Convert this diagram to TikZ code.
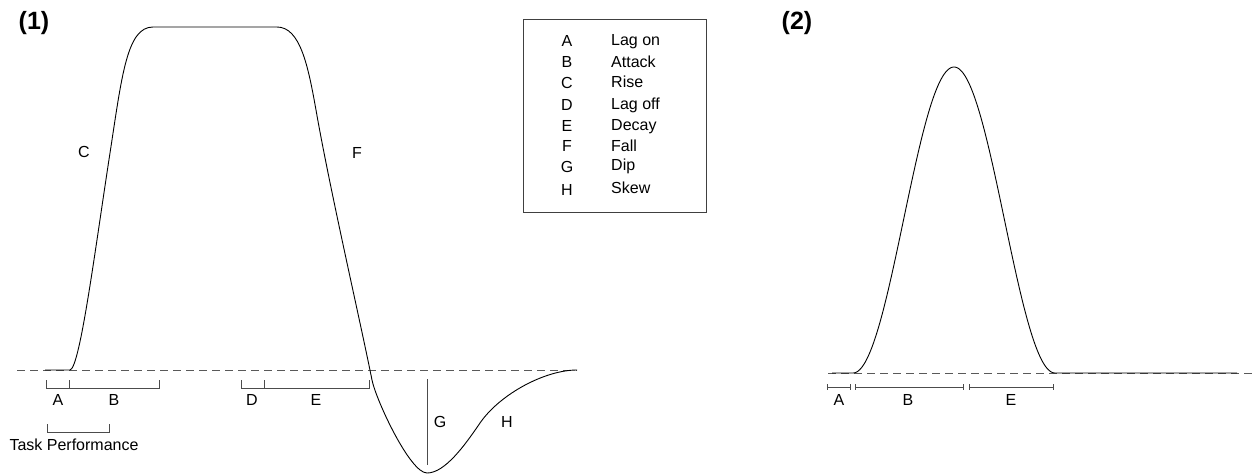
\documentclass[tikz,border=0pt]{standalone}
\usepackage{fontspec}
\setmainfont{Liberation Sans}
\begin{document}
\begin{tikzpicture}[x=1pt,y=-1pt,
  lbl/.style={font=\fontsize{16}{19}\selectfont, inner sep=0pt, anchor=base},
  lword/.style={font=\fontsize{16}{19}\selectfont, inner sep=0pt, anchor=base west},
  ttl/.style={font=\fontsize{25}{30}\selectfont\bfseries, inner sep=0pt, anchor=base},
  curve/.style={line width=0.9pt, black},
  baseline/.style={line width=0.9pt, draw=black!65, dash pattern=on 8pt off 5pt},
  brk/.style={line width=0.9pt, draw=black!70},
  legbox/.style={line width=0.9pt, draw=black!75},
]
\useasboundingbox (0,0) rectangle (1253,475);

% titles
\node[ttl] (t1) at (34,29.5) {(1)};
\node[ttl] (t2) at (797,29.5) {(2)};

% ---------- plot 1 ----------
\coordinate (b1L) at (17,370);
\coordinate (b1R) at (577,370);
\draw[baseline] (b1L) -- (b1R);
\draw[curve] (45,370) -- (70,370)
  .. controls (80,368) and (95,250) .. (110,153)
  .. controls (122,75) and (127,27) .. (153,27)
  -- (277,27)
  .. controls (300,27) and (308,65) .. (316,110)
  .. controls (330,190) and (360,320) .. (372,380)
  .. controls (376,400) and (410,473) .. (427,473)
  .. controls (445,473) and (465,445) .. (480,423)
  .. controls (500,394) and (545,370) .. (577,370);

% brackets plot 1
\draw[brk] (46,380) -- (46,388) -- (159,388) -- (159,380);
\draw[brk] (69,388) -- (69,380);
\draw[brk] (241,380) -- (241,388) -- (369,388) -- (369,380);
\draw[brk] (264,388) -- (264,380);
\draw[brk] (47,424) -- (47,432) -- (109,432) -- (109,424);
\coordinate (gtop) at (427,379);
\coordinate (gbot) at (427,465);
\draw[brk] (gtop) -- (gbot);

\node[lbl] (pA) at (58,405.5) {A};
\node[lbl] (pB) at (114,405.5) {B};
\node[lbl] (pD) at (252,405.5) {D};
\node[lbl] (pE) at (316,405.5) {E};
\node[lbl] (task) at (74,450) {Task Performance};
\node[lbl] (pC) at (84,157) {C};
\node[lbl] (pF) at (357,158) {F};
\node[lbl] (pG) at (440,427.5) {G};
\node[lbl] (pH) at (507,427.5) {H};

% ---------- legend ----------
\draw[legbox] (523,19) rectangle (706,212);
\node[lbl] (kA) at (567,46) {A};   \node[lword] (wA) at (611,45) {Lag on};
\node[lbl] (kB) at (567,67.5) {B}; \node[lword] (wB) at (611,67.3) {Attack};
\node[lbl] (kC) at (567,88) {C};   \node[lword] (wC) at (611,87.7) {Rise};
\node[lbl] (kD) at (567,110) {D};  \node[lword] (wD) at (611,109) {Lag off};
\node[lbl] (kE) at (567,131) {E};  \node[lword] (wE) at (611,130) {Decay};
\node[lbl] (kF) at (567,151.7) {F};\node[lword] (wF) at (611,151.7) {Fall};
\node[lbl] (kG) at (567,172.7) {G};\node[lword] (wG) at (611,170) {Dip};
\node[lbl] (kH) at (567,195) {H};  \node[lword] (wH) at (611,193) {Skew};

% ---------- plot 2 ----------
\coordinate (b2L) at (828,373);
\coordinate (b2R) at (1253,373);
\draw[baseline] (b2L) -- (b2R);
\draw[curve] (832,373) -- (853,373)
  -- plot[domain=853:1055,samples=150] (\x,{373-153*(1+cos((\x-954)/101*180))})
  -- (1237,373);

\draw[brk] (827,384) -- (827,390); \draw[brk] (827,387) -- (850,387); \draw[brk] (850,384) -- (850,390);
\draw[brk] (855,384) -- (855,390); \draw[brk] (855,387) -- (963,387); \draw[brk] (963,384) -- (963,390);
\draw[brk] (969,384) -- (969,390); \draw[brk] (969,387) -- (1053,387); \draw[brk] (1053,384) -- (1053,390);

\node[lbl] (qA) at (839,405.5) {A};
\node[lbl] (qB) at (908,405.5) {B};
\node[lbl] (qE) at (1011,405.5) {E};
\end{tikzpicture}
\end{document}
